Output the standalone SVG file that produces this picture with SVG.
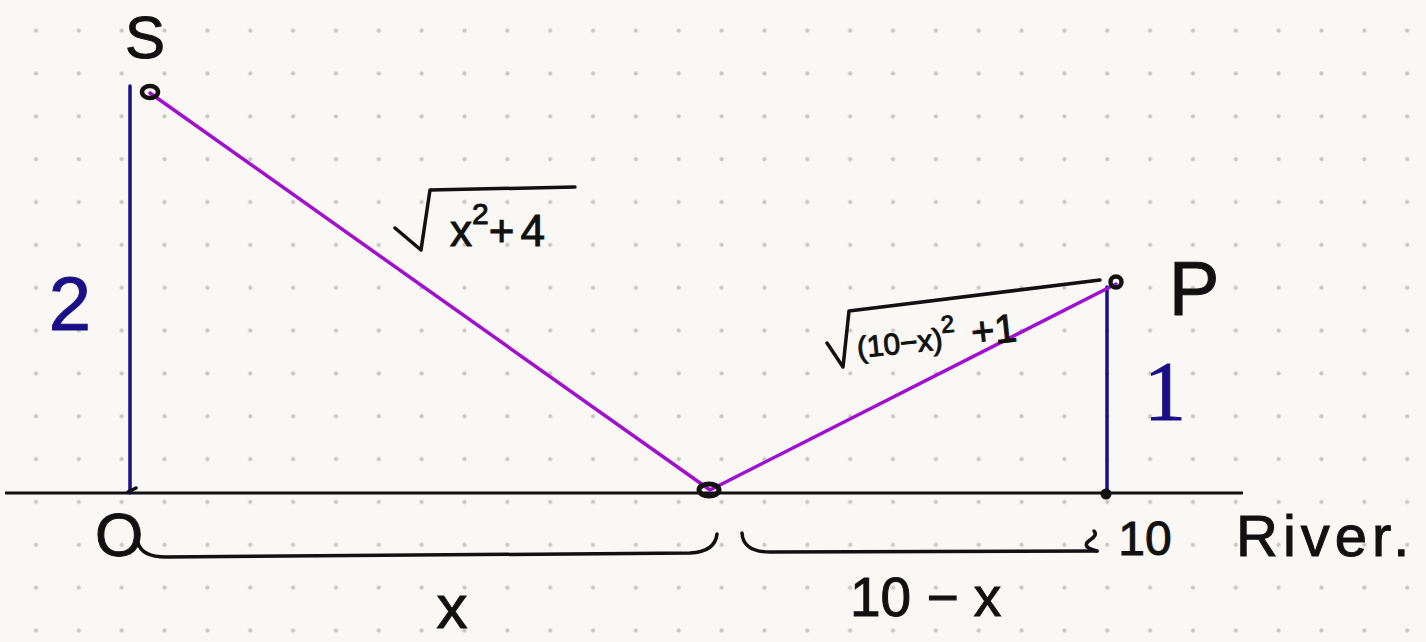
<svg xmlns="http://www.w3.org/2000/svg" width="1426" height="642" viewBox="0 0 1426 642">
<defs>
<pattern id="dots" x="14.6" y="9.3" width="42.85" height="42.85" patternUnits="userSpaceOnUse">
<circle cx="21.4" cy="21.4" r="2.1" fill="#c9c7c3"/>
</pattern>
<style>
.ink{fill:none;stroke:#111;stroke-width:3.5;stroke-linecap:round;stroke-linejoin:round}
.navy{fill:none;stroke:#1a0f86;stroke-width:3.5;stroke-linecap:round}
.purple{fill:none;stroke:#a10fcf;stroke-width:3.5;stroke-linecap:round;stroke-linejoin:round}
.river{fill:none;stroke:#111;stroke-width:3}
.t{font-family:"Liberation Sans",Arial,sans-serif;fill:#111;stroke:#111;stroke-width:1}
.tn{font-family:"Liberation Sans",Arial,sans-serif;fill:#1a0f86;stroke:#1a0f86;stroke-width:1}
.pt{fill:none;stroke:#111;stroke-width:4.5}
</style>
</defs>
<rect width="1426" height="642" fill="#faf8f4"/>
<rect width="1426" height="642" fill="url(#dots)"/>

<g id="connectors">
<path class="river" d="M5 493 H1243"/>
<path class="navy" d="M130 86 V493"/>
<path class="navy" d="M1107 287 V493"/>
<path class="purple" d="M150 93 L710 490 L1116 284"/>
<path class="ink" d="M138 543 Q142 557 166 557 L690 553 Q715 552 717 534"/>
<path class="ink" d="M742 533 Q743 552 770 552 L1097 551"/>
<path class="ink" d="M1097 551 Q1080 547 1090 540 Q1098 535 1094 531"/>
</g>

<g id="node-S">
<ellipse class="pt" cx="150" cy="92" rx="8" ry="6"/>
<text class="t" x="145" y="58" font-size="60" text-anchor="middle">S</text>
</g>

<g id="node-P">
<circle class="pt" cx="1116" cy="282" r="5.5"/>
<text class="t" x="1194" y="315" font-size="76" text-anchor="middle">P</text>
</g>

<g id="node-M">
<ellipse cx="709" cy="490" rx="10" ry="6" fill="none" stroke="#111" stroke-width="5"/>
</g>

<g id="node-O">
<path d="M128 492 L136 488" class="ink" stroke-width="5"/>
<text class="t" x="119" y="556" font-size="62" text-anchor="middle" stroke-width="3">O</text>
</g>

<g id="node-10">
<circle cx="1106" cy="494" r="5.5" fill="#111"/>
<text class="t" x="1145" y="555" font-size="48" text-anchor="middle">10</text>
</g>

<g id="labels">
<text class="tn" x="70" y="330" font-size="76" text-anchor="middle">2</text>
<text x="1165" y="420" font-size="84" text-anchor="middle" font-family="'Liberation Serif',serif" fill="#1a0f86" stroke="#1a0f86" stroke-width="1">1</text>
<text class="t" x="452" y="628" font-size="62" text-anchor="middle">x</text>
<text class="t" x="850" y="616" font-size="55">10 − x</text>
<text class="t" x="1236" y="556" font-size="58" letter-spacing="5">River.</text>
<path class="ink" d="M395 228 L421 250 L430 190 L575 187"/>
<text class="t" x="450" y="246" font-size="44">x<tspan font-size="30" dy="-22">2</tspan><tspan dy="22" letter-spacing="6">+4</tspan></text>
<path class="ink" d="M827 343 L843 367 L849 311 L1100 280"/>
<text class="t" x="858" y="358" font-size="30" transform="rotate(-6 858 358)">(10−x)<tspan font-size="24" dy="-16">2</tspan><tspan dy="16" dx="16" font-size="40">+1</tspan></text>
</g>
</svg>
